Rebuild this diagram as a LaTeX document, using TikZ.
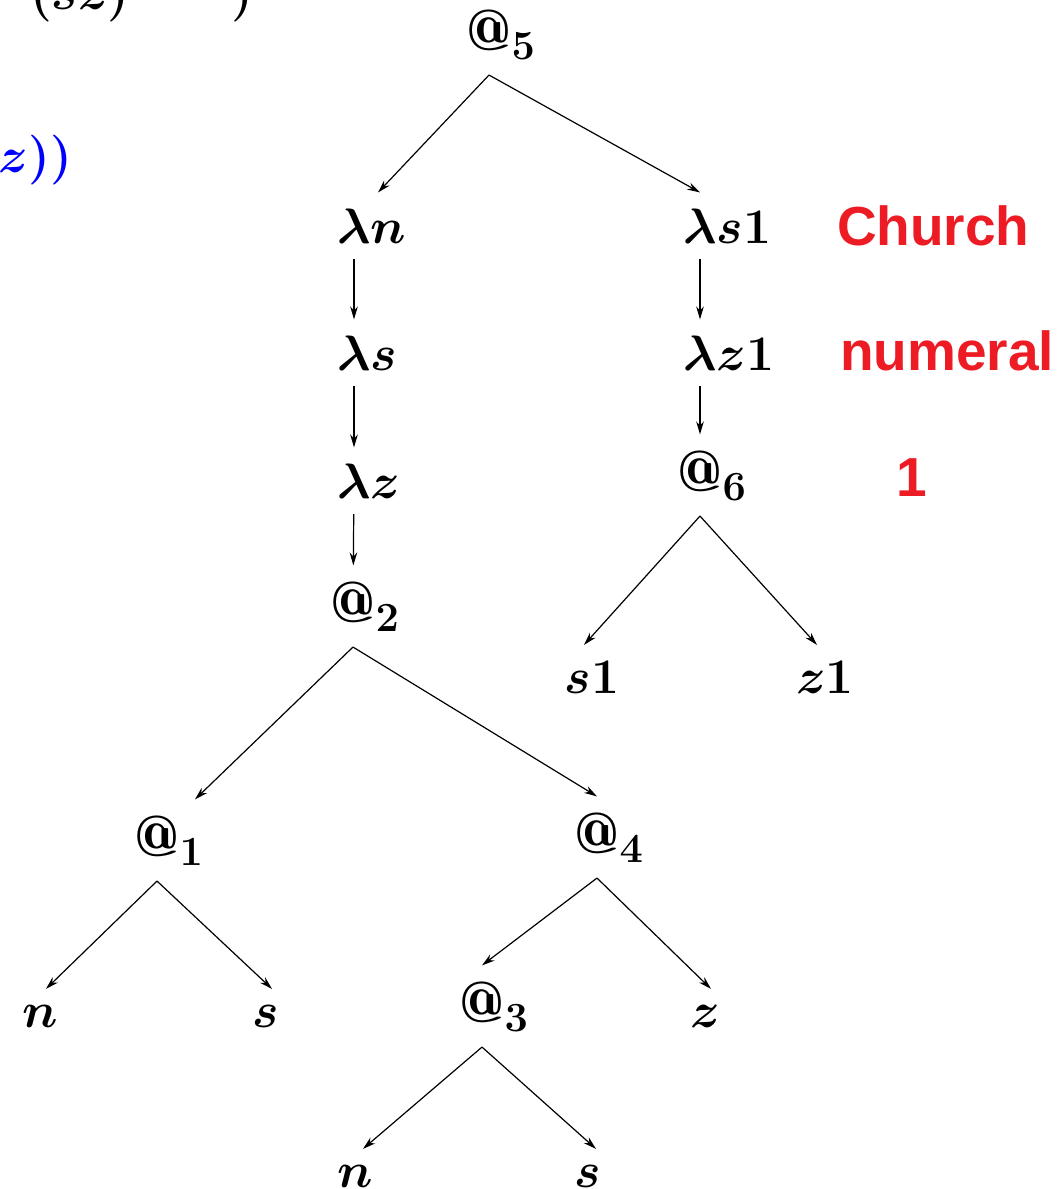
\documentclass[tikz,border=0pt]{standalone}
\usepackage{fontspec}
\usetikzlibrary{arrows.meta}
\newfontfamily\notefont{Liberation Sans}
\definecolor{notered}{RGB}{237,28,36}

\begin{document}
\begin{tikzpicture}[x=0.5pt, y=-0.5pt,
  every node/.style={font=\fontsize{29}{34}\selectfont\boldmath, inner sep=8pt, outer sep=0pt, anchor=base},
  note/.style={font=\fontsize{27.5}{33}\selectfont\notefont\bfseries, text=notered, inner sep=0pt},
  edge/.style={-{Stealth[length=6.5pt,width=3.8pt]}, line width=0.6pt}]
  \clip (0,0) rectangle (1059,1189);
  % cut-off text of the slide
  \node[anchor=base west, inner sep=0pt] (top) at (30,9) {$(sz)$};
  \node[anchor=base west, inner sep=0pt] (topb) at (231,9) {$)$};
  \node[anchor=base east, inner sep=0pt, text=blue] (blue) at (72,172) {$z))$};
  % tree
  \node (a5) at (489,50) {$@\rlap{$_5$}$};
  \node (ln) at (354,243) {$\lambda\rlap{$n$}$};
  \node (ls) at (354,370) {$\lambda\rlap{$s$}$};
  \node (lz) at (354,498) {$\lambda\rlap{$z$}$};
  \node (a2) at (353,622) {$@\rlap{$_2$}$};
  \node (a1) at (157,856) {$@\rlap{$_1$}$};
  \node (a4) at (597,853) {$@\rlap{$_4$}$};
  \node (n1) at (40,1027) {$n$};
  \node (s1) at (266,1027) {$s$};
  \node (a3) at (482,1022) {$@\rlap{$_3$}$};
  \node (z1) at (705,1027) {$z$};
  \node (n2) at (355,1187) {$n$};
  \node (s2) at (588,1187) {$s$};
  % the numeral 1
  \node (lsa) at (700,243) {$\lambda\rlap{$s1$}$};
  \node (lza) at (700,370) {$\lambda\rlap{$z1$}$};
  \node (a6) at (700,491) {$@\rlap{$_6$}$};
  \node (sa) at (592,693) {$s1$};
  \node (za) at (825,693) {$z1$};
  \node[note, anchor=base west] (church) at (837,245) {Church};
  \node[note, anchor=base west] (numeral) at (840,370) {numeral};
  \node[note] (one) at (912,496) {1};
  % edges
  \draw[edge] (a5.south) -- ([xshift=12pt]ln.north);
  \draw[edge] (a5.south) -- (lsa.north);
  \draw[edge] (ln) -- (ls);
  \draw[edge] (ls) -- (lz);
  \draw[edge] (lz) -- (a2);
  \draw[edge] (a2.south) -- ([xshift=19pt]a1.north);
  \draw[edge] (a2.south) -- (a4.north);
  \draw[edge] (a1.south) -- ([xshift=3pt]n1.north);
  \draw[edge] (a1.south) -- ([xshift=3pt]s1.north);
  \draw[edge] (a4.south) -- (a3.north);
  \draw[edge] (a4.south) -- ([xshift=3pt]z1.north);
  \draw[edge] (a3.south) -- ([xshift=4pt]n2.north);
  \draw[edge] (a3.south) -- ([xshift=4pt]s2.north);
  \draw[edge] (lsa) -- (lza);
  \draw[edge] (lza) -- (a6);
  \draw[edge] (a6.south) -- ([xshift=-4pt]sa.north);
  \draw[edge] (a6.south) -- ([xshift=-4pt]za.north);
\end{tikzpicture}
\end{document}
